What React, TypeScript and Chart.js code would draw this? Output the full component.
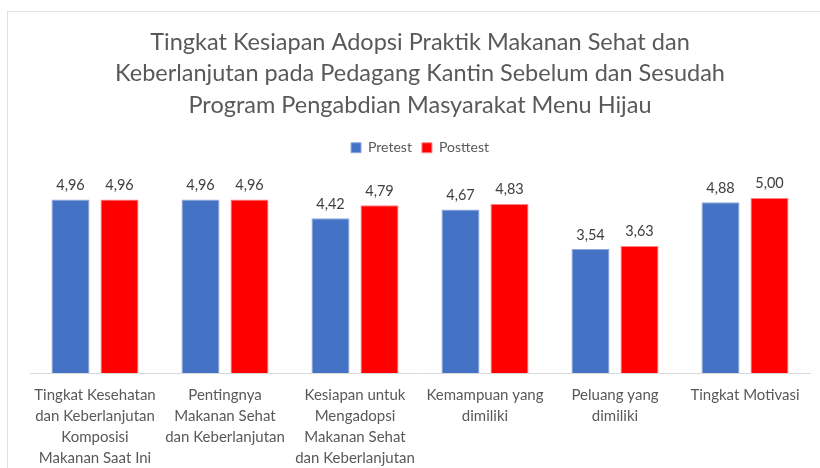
import React, { useEffect, useRef } from "react";
import { Chart, registerables } from "chart.js";

Chart.register(...registerables);

const categories: string[][] = [
  ["Tingkat Kesehatan", "dan Keberlanjutan", "Komposisi", "Makanan Saat Ini"],
  ["Pentingnya", "Makanan Sehat", "dan Keberlanjutan"],
  ["Kesiapan untuk", "Mengadopsi", "Makanan Sehat", "dan Keberlanjutan"],
  ["Kemampuan yang", "dimiliki"],
  ["Peluang yang", "dimiliki"],
  ["Tingkat Motivasi"],
];
const pretest: number[] = [4.96, 4.96, 4.42, 4.67, 3.54, 4.88];
const posttest: number[] = [4.96, 4.96, 4.79, 4.83, 3.63, 5.0];
const titleLines: string[] = [
  "Tingkat Kesiapan Adopsi Praktik Makanan Sehat dan",
  "Keberlanjutan pada Pedagang Kantin Sebelum dan Sesudah",
  "Program Pengabdian Masyarakat Menu Hijau",
];

const FONT = "Lato, 'Open Sans', sans-serif";

const dataLabels = {
  id: "dataLabels",
  afterDatasetsDraw(chart: any) {
    const ctx = chart.ctx;
    ctx.save();
    ctx.font = `14.5px ${FONT}`;
    ctx.fillStyle = "#404040";
    ctx.textAlign = "center";
    ctx.textBaseline = "bottom";
    chart.data.datasets.forEach((ds: any, i: number) => {
      const meta = chart.getDatasetMeta(i);
      meta.data.forEach((bar: any, j: number) => {
        const v = ds.data[j] as number;
        ctx.fillText(v.toFixed(2).replace(".", ","), bar.x, bar.y - 7);
      });
    });
    ctx.restore();
  },
};

export default function App() {
  const ref = useRef<HTMLCanvasElement | null>(null);
  useEffect(() => {
    document.body.style.margin = "0";
    const chart = new Chart(ref.current!, {
      type: "bar",
      data: {
        labels: categories,
        datasets: [
          {
            label: "Pretest",
            data: pretest,
            backgroundColor: "#4472C4",
            borderColor: "#8faadc",
            borderWidth: 1,
            categoryPercentage: 0.754,
            barPercentage: 0.776,
          },
          {
            label: "Posttest",
            data: posttest,
            backgroundColor: "#FF0000",
            borderColor: "#ff8080",
            borderWidth: 1,
            categoryPercentage: 0.754,
            barPercentage: 0.776,
          },
        ],
      },
      options: {
        animation: false,
        responsive: false,
        layout: { padding: { left: 30, right: 10, top: 18, bottom: -5 } },
        plugins: {
          title: {
            display: true,
            text: titleLines,
            color: "#595959",
            font: { family: FONT, size: 23.5, weight: "normal", lineHeight: 1.33 },
            padding: { top: 9, bottom: 10 },
          },
          legend: {
            display: true,
            position: "top",
            labels: {
              boxWidth: 10,
              boxHeight: 10,
              color: "#595959",
              font: { family: FONT, size: 14 },
              padding: 10,
            },
          },
          tooltip: { enabled: false },
        },
        scales: {
          x: {
            grid: { display: false },
            border: { display: true, color: "#d9d9d9", width: 1 },
            ticks: {
              color: "#595959",
              font: { family: FONT, size: 15, lineHeight: 1.4 },
              maxRotation: 0,
              minRotation: 0,
              autoSkip: false,
              padding: 4,
            },
          },
          y: {
            display: false,
            min: 0,
            max: 5.95,
          },
        },
      },
      plugins: [dataLabels],
    });
    return () => chart.destroy();
  }, []);
  return (
    <div style={{ position: "relative", width: 820, height: 468, overflow: "hidden", background: "#fff" }}>
      <div
        style={{
          position: "absolute",
          left: 7,
          top: 11,
          width: 900,
          height: 600,
          border: "1px solid #e0e0e0",
          boxSizing: "border-box",
        }}
      />
      <canvas ref={ref} width={820} height={468} style={{ position: "absolute", left: 0, top: 0, width: 820, height: 468 }} />
    </div>
  );
}
